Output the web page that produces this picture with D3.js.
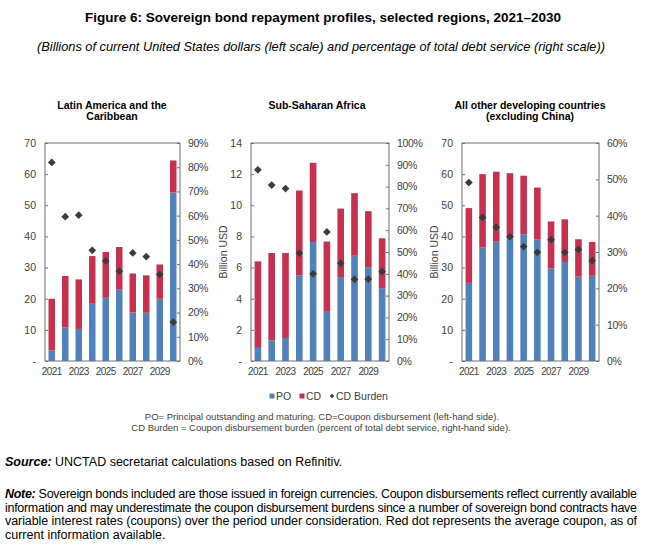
<!DOCTYPE html>
<html>
<head>
<meta charset="utf-8">
<script src="https://d3js.org/d3.v7.min.js"></script>
<style>
  body { margin: 0; background: #fff; }
  text { font-family: "Liberation Sans Narrow", "Arial Narrow", "Liberation Sans", Arial, sans-serif; }
</style>
</head>
<body>
<div id="chart"></div>
<script>

// data
var years = [2021, 2022, 2023, 2024, 2025, 2026, 2027, 2028, 2029, 2030];
var yearLabels = ["2021", "2023", "2025", "2027", "2029"];

var lacPO = [3.4, 10.8, 10.3, 18.4, 20.3, 22.9, 15.6, 15.5, 20.0, 54.1];
var lacCD = [16.6, 16.5, 15.9, 15.3, 14.7, 13.7, 12.5, 12.0, 11.0, 10.3];
var lacBurden = [82.0, 59.6, 60.2, 45.7, 41.3, 37.1, 44.6, 43.1, 35.8, 16.0];

var ssaPO = [0.84, 1.33, 1.48, 5.50, 7.64, 3.16, 5.39, 6.76, 5.99, 4.68];
var ssaCD = [5.56, 5.61, 5.46, 5.45, 5.09, 4.51, 4.40, 4.02, 3.63, 3.20];
var ssaBurden = [87.7, 80.7, 79.1, 49.5, 40.0, 59.2, 44.8, 37.4, 37.6, 41.0];

var othPO = [25.1, 36.4, 38.3, 39.6, 40.7, 39.1, 29.7, 31.8, 27.1, 27.6];
var othCD = [24.0, 23.6, 22.5, 20.7, 18.8, 16.6, 15.1, 13.7, 12.0, 10.6];
var othBurden = [49.1, 39.5, 36.8, 34.2, 31.5, 29.9, 33.4, 29.9, 30.7, 27.6];

var panels = [
  {title: ["Latin America and the", "Caribbean"], po: lacPO, cd: lacCD, burden: lacBurden,
   yMax: 70, yStep: 10, rMax: 90, ylabel: null, left: 45, right: 180, cx: 112},
  {title: ["Sub-Saharan Africa"], po: ssaPO, cd: ssaCD, burden: ssaBurden,
   yMax: 14, yStep: 2, rMax: 100, ylabel: "Billion USD", left: 251, right: 389, cx: 317},
  {title: ["All other developing countries", "(excluding China)"], po: othPO, cd: othCD, burden: othBurden,
   yMax: 70, yStep: 10, rMax: 60, ylabel: "Billion USD", left: 462, right: 599, cx: 530}
];

var colPO = "#4f81bd", colCD = "#c7304f", colDot = "#3b3b3b", axisCol = "#6f6f6f", txtCol = "#404040";
var plotTop = 143, plotBottom = 361;

var svg = d3.select("#chart").append("svg")
    .attr("width", 647).attr("height", 546);

// titles
svg.append("text")
    .attr("x", 323).attr("y", 22)
    .attr("text-anchor", "middle")
    .style("font-size", "13.5px").style("font-weight", "bold")
    .attr("textLength", 476).attr("lengthAdjust", "spacingAndGlyphs")
    .text("Figure 6: Sovereign bond repayment profiles, selected regions, 2021\u20132030");

svg.append("text")
    .attr("x", 321).attr("y", 51)
    .attr("text-anchor", "middle")
    .style("font-size", "13px").style("font-style", "italic")
    .attr("textLength", 568).attr("lengthAdjust", "spacingAndGlyphs")
    .text("(Billions of current United States dollars (left scale) and percentage of total debt service (right scale))");

panels.forEach(function(p) {
  var g = svg.append("g");

  var x = d3.scaleBand()
      .domain(years)
      .range([p.left, p.right])
      .paddingInner(0.52).paddingOuter(0.26);

  var y = d3.scaleLinear().domain([0, p.yMax]).range([plotBottom, plotTop]);
  var yr = d3.scaleLinear().domain([0, p.rMax / 100]).range([plotBottom, plotTop]);

  // panel title
  p.title.forEach(function(t, i) {
    g.append("text")
        .attr("x", p.cx).attr("y", 109 + i * 11)
        .attr("text-anchor", "middle")
        .style("font-size", "10.5px").style("font-weight", "bold")
        .text(t);
  });

  // stacked bars
  var rows = years.map(function(yy, i) { return {year: yy, PO: p.po[i], CD: p.cd[i]}; });
  var stack = d3.stack().keys(["PO", "CD"])(rows);
  var colors = {PO: colPO, CD: colCD};

  g.selectAll("g.layer").data(stack).enter().append("g")
      .attr("fill", function(d) { return colors[d.key]; })
    .selectAll("rect").data(function(d) { return d; }).enter().append("rect")
      .attr("x", function(d) { return x(d.data.year); })
      .attr("width", x.bandwidth())
      .attr("y", function(d) { return y(d[1]); })
      .attr("height", function(d) { return y(d[0]) - y(d[1]); });

  // frame
  g.append("rect")
      .attr("x", p.left).attr("y", plotTop)
      .attr("width", p.right - p.left).attr("height", plotBottom - plotTop)
      .attr("fill", "none").attr("stroke", axisCol).attr("stroke-width", 1);

  // left axis
  var yAxis = d3.axisRight(y)
      .tickValues(d3.range(0, p.yMax + 0.001, p.yStep))
      .tickSize(3)
      .tickFormat(function(d) { return d === 0 ? "-" : d; });
  var ga = g.append("g").attr("transform", "translate(" + p.left + ",0)").call(yAxis);
  ga.select(".domain").remove();
  ga.selectAll("line").attr("stroke", axisCol);
  ga.selectAll("text")
      .attr("x", -9).attr("text-anchor", "end")
      .style("font-size", "10.5px").attr("fill", txtCol);

  // right axis
  var rAxis = d3.axisLeft(yr)
      .ticks(p.rMax / 10)
      .tickSize(3)
      .tickFormat(d3.format(".0%"));
  var gr = g.append("g").attr("transform", "translate(" + p.right + ",0)").call(rAxis);
  gr.select(".domain").remove();
  gr.selectAll("line").attr("stroke", axisCol);
  gr.selectAll("text")
      .attr("x", 8).attr("text-anchor", "start")
      .style("font-size", "10.5px").style("letter-spacing", "-0.3px").attr("fill", txtCol);

  // x labels
  var xAxis = d3.axisBottom(x).tickValues(yearLabels.map(Number)).tickSize(0);
  var gx = g.append("g").attr("transform", "translate(0," + plotBottom + ")").call(xAxis);
  gx.select(".domain").remove();
  gx.selectAll("text").attr("dy", "1.1em")
      .style("font-size", "10px").style("letter-spacing", "-0.6px").attr("fill", txtCol);

  // y label
  if (p.ylabel) {
    g.append("text")
        .attr("transform", "translate(" + (p.left - 24) + "," + ((plotTop + plotBottom) / 2) + ") rotate(-90)")
        .attr("text-anchor", "middle")
        .style("font-size", "10.5px").attr("fill", txtCol)
        .text(p.ylabel);
  }

  // burden diamonds
  g.selectAll("path.dot").data(p.burden).enter().append("path")
      .attr("d", d3.symbol().type(d3.symbolSquare).size(30))
      .attr("transform", function(d, i) {
        return "translate(" + (x(years[i]) + x.bandwidth() / 2) + "," + yr(d / 100) + ") rotate(45)";
      })
      .attr("fill", colDot);
});

// legend
var legend = [
  {label: "PO", color: colPO, shape: "sq", x: 272},
  {label: "CD", color: colCD, shape: "sq", x: 302},
  {label: "CD Burden", color: colDot, shape: "dia", x: 332}
];
var lg = svg.append("g");
legend.forEach(function(l) {
  if (l.shape === "sq") {
    lg.append("rect").attr("x", l.x - 2.5).attr("y", 393.5).attr("width", 5).attr("height", 5).attr("fill", l.color);
  } else {
    lg.append("path").attr("d", d3.symbol().type(d3.symbolSquare).size(10))
        .attr("transform", "translate(" + l.x + ",396) rotate(45)").attr("fill", l.color);
  }
  lg.append("text").attr("x", l.x + 4).attr("y", 400)
      .style("font-size", "10.5px").attr("fill", txtCol).text(l.label);
});

svg.append("text").attr("x", 322).attr("y", 420).attr("text-anchor", "middle")
    .style("font-size", "9.5px").attr("fill", txtCol)
    .text("PO= Principal outstanding and maturing. CD=Coupon disbursement (left-hand side).");
svg.append("text").attr("x", 321).attr("y", 431).attr("text-anchor", "middle")
    .style("font-size", "9.5px").attr("fill", txtCol)
    .text("CD Burden = Coupon disbursement burden (percent of total debt service, right-hand side).");

// source and note
var src = svg.append("text").attr("x", 5).attr("y", 466).style("font-size", "12.5px");
src.append("tspan").style("font-weight", "bold").style("font-style", "italic").text("Source:");
src.append("tspan").text(" UNCTAD secretariat calculations based on Refinitiv.");

var noteLines = [
  "Sovereign bonds included are those issued in foreign currencies. Coupon disbursements reflect currently available",
  "information and may underestimate the coupon disbursement burdens since a number of sovereign bond contracts have",
  "variable interest rates (coupons) over the period under consideration. Red dot represents the average coupon, as of",
  "current information available."
];
noteLines.forEach(function(t, i) {
  var tx = svg.append("text").attr("x", 5).attr("y", 498 + i * 13.5).style("font-size", "12.5px");
  if (i === 0) {
    tx.append("tspan").style("font-weight", "bold").style("font-style", "italic").text("Note:");
    tx.append("tspan").text(" " + t);
  } else {
    tx.text(t);
  }
  if (i < 3) tx.attr("textLength", 632).attr("lengthAdjust", "spacing");
});

</script>
</body>
</html>
